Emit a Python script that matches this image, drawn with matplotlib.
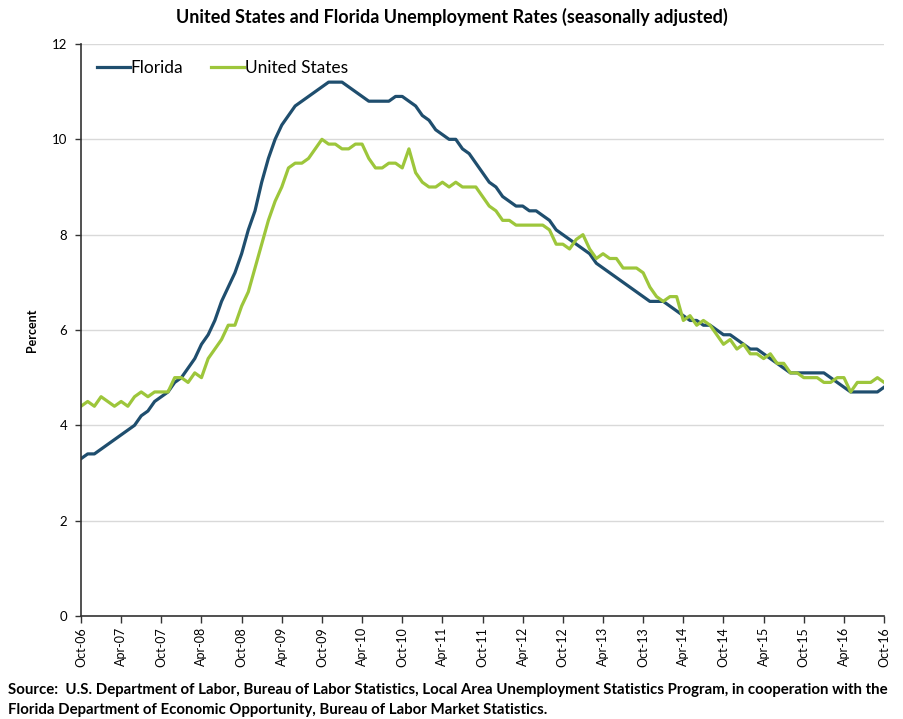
import matplotlib
matplotlib.use("Agg")
import matplotlib.pyplot as plt
import numpy as np

# Monthly, Oct-2006 .. Oct-2016
florida = [3.3, 3.4, 3.4, 3.5, 3.6, 3.7, 3.8, 3.9, 4.0, 4.2, 4.3, 4.5,
           4.6, 4.7, 4.9, 5.0, 5.2, 5.4, 5.7, 5.9, 6.2, 6.6, 6.9, 7.2,
           7.6, 8.1, 8.5, 9.1, 9.6, 10.0, 10.3, 10.5, 10.7, 10.8, 10.9, 11.0,
           11.1, 11.2, 11.2, 11.2, 11.1, 11.0, 10.9, 10.8, 10.8, 10.8, 10.8, 10.9,
           10.9, 10.8, 10.7, 10.5, 10.4, 10.2, 10.1, 10.0, 10.0, 9.8, 9.7, 9.5,
           9.3, 9.1, 9.0, 8.8, 8.7, 8.6, 8.6, 8.5, 8.5, 8.4, 8.3, 8.1,
           8.0, 7.9, 7.8, 7.7, 7.6, 7.4, 7.3, 7.2, 7.1, 7.0, 6.9, 6.8,
           6.7, 6.6, 6.6, 6.6, 6.5, 6.4, 6.3, 6.2, 6.2, 6.1, 6.1, 6.0,
           5.9, 5.9, 5.8, 5.7, 5.6, 5.6, 5.5, 5.4, 5.3, 5.2, 5.1, 5.1,
           5.1, 5.1, 5.1, 5.1, 5.0, 4.9, 4.8, 4.7, 4.7, 4.7, 4.7, 4.7,
           4.8]
united_states = [4.4, 4.5, 4.4, 4.6, 4.5, 4.4, 4.5, 4.4, 4.6, 4.7, 4.6, 4.7,
                 4.7, 4.7, 5.0, 5.0, 4.9, 5.1, 5.0, 5.4, 5.6, 5.8, 6.1, 6.1,
                 6.5, 6.8, 7.3, 7.8, 8.3, 8.7, 9.0, 9.4, 9.5, 9.5, 9.6, 9.8,
                 10.0, 9.9, 9.9, 9.8, 9.8, 9.9, 9.9, 9.6, 9.4, 9.4, 9.5, 9.5,
                 9.4, 9.8, 9.3, 9.1, 9.0, 9.0, 9.1, 9.0, 9.1, 9.0, 9.0, 9.0,
                 8.8, 8.6, 8.5, 8.3, 8.3, 8.2, 8.2, 8.2, 8.2, 8.2, 8.1, 7.8,
                 7.8, 7.7, 7.9, 8.0, 7.7, 7.5, 7.6, 7.5, 7.5, 7.3, 7.3, 7.3,
                 7.2, 6.9, 6.7, 6.6, 6.7, 6.7, 6.2, 6.3, 6.1, 6.2, 6.1, 5.9,
                 5.7, 5.8, 5.6, 5.7, 5.5, 5.5, 5.4, 5.5, 5.3, 5.3, 5.1, 5.1,
                 5.0, 5.0, 5.0, 4.9, 4.9, 5.0, 5.0, 4.7, 4.9, 4.9, 4.9, 5.0,
                 4.9]
tick_labels = ["Oct-06", "Apr-07", "Oct-07", "Apr-08", "Oct-08", "Apr-09", "Oct-09",
               "Apr-10", "Oct-10", "Apr-11", "Oct-11", "Apr-12", "Oct-12", "Apr-13",
               "Oct-13", "Apr-14", "Oct-14", "Apr-15", "Oct-15", "Apr-16", "Oct-16"]

plt.rcParams['font.family'] = ['Lato', 'DejaVu Sans']

fig = plt.figure(figsize=(9.04, 7.19), dpi=100)
ax = fig.add_axes([0.0896, 0.1433, 0.978 - 0.0896, 0.9388 - 0.1433])

x = np.arange(len(florida))
ax.plot(x, florida, color="#1f4e6e", lw=2.3, label="Florida", solid_joinstyle="round")
ax.plot(x, united_states, color="#9dc63b", lw=2.3, label="United States", solid_joinstyle="round")

ax.set_xlim(0, len(florida) - 1)
ax.set_ylim(0, 12)
ax.set_yticks(np.arange(0, 13, 2))
ax.set_xticks(np.arange(0, len(florida), 6))
ax.set_xticklabels(tick_labels, rotation=90, fontsize=9)
ax.tick_params(axis='y', labelsize=9.5, length=4, width=1, color="#333333", pad=6)
ax.tick_params(axis='x', length=5, width=1, color="#333333", pad=3)

ax.grid(axis='y', color="#d9d9d9", lw=1)
ax.set_axisbelow(True)
for s in ["top", "right"]:
    ax.spines[s].set_visible(False)
ax.spines["left"].set_color("#333333")
ax.spines["bottom"].set_color("#333333")
ax.spines["left"].set_linewidth(1.2)
ax.spines["bottom"].set_linewidth(1.2)

ax.set_ylabel("Percent", fontsize=9, fontweight="bold", labelpad=10)

leg = ax.legend(loc="upper left", bbox_to_anchor=(0.0, 1.0), ncol=2, frameon=False,
                fontsize=12.5, handlelength=1.9, handletextpad=0.05, columnspacing=1.6)

fig.text(0.5, 0.976, "United States and Florida Unemployment Rates (seasonally adjusted)",
         ha="center", va="center", fontsize=13, fontweight="bold")

fig.text(0.009, 0.041, "Source:  U.S. Department of Labor, Bureau of Labor Statistics, Local Area Unemployment Statistics Program, in cooperation with the",
         ha="left", va="center", fontsize=10.8, fontweight="bold")
fig.text(0.009, 0.013, "Florida Department of Economic Opportunity, Bureau of Labor Market Statistics.",
         ha="left", va="center", fontsize=10.8, fontweight="bold")

fig.savefig("out.png", dpi=100)
